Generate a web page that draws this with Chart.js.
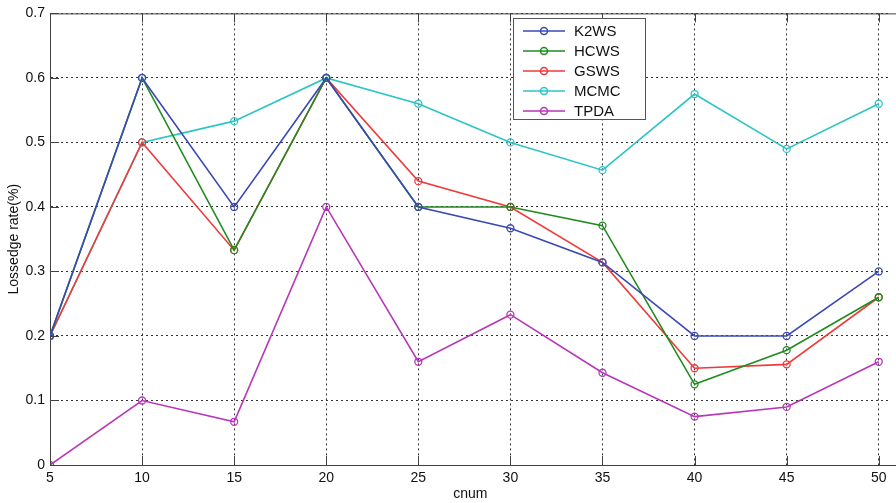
<!DOCTYPE html>
<html>
<head>
<meta charset="utf-8">
<script src="https://cdn.jsdelivr.net/npm/chart.js@4.4.1/dist/chart.umd.min.js"></script>
<style>
  html, body { margin: 0; padding: 0; background: #fff; overflow: hidden; }
  #wrap { width: 896px; height: 503px; }
</style>
</head>
<body>
<div id="wrap"><canvas id="lossChart"></canvas></div>
<script>
// cnum values on the x axis
const cnum = [5, 10, 15, 20, 25, 30, 35, 40, 45, 50];
const yTicks = [0, 0.1, 0.2, 0.3, 0.4, 0.5, 0.6, 0.7];

// lossedge rate per method
const k2ws = [0.2, 0.6, 0.4, 0.6, 0.4, 0.367, 0.314, 0.2, 0.2, 0.3];
const hcws = [0.2, 0.6, 0.333, 0.6, 0.4, 0.4, 0.371, 0.125, 0.178, 0.26];
const gsws = [0.2, 0.5, 0.333, 0.6, 0.44, 0.4, 0.314, 0.15, 0.156, 0.26];
const mcmc = [0.2, 0.5, 0.533, 0.6, 0.56, 0.5, 0.457, 0.575, 0.49, 0.56];
const tpda = [0, 0.1, 0.067, 0.4, 0.16, 0.233, 0.143, 0.075, 0.09, 0.16];

const names = ['K2WS', 'HCWS', 'GSWS', 'MCMC', 'TPDA'];
const colors = ['#3a49b5', '#1f8c1f', '#f03a3a', '#2cc4c4', '#b836b8'];
const series = [k2ws, hcws, gsws, mcmc, tpda];

const toPoints = vals => vals.map((v, i) => ({ x: cnum[i], y: v }));

// top border, inward ticks and the legend box (matlab style)
const matlabBox = {
    id: 'matlabBox',
    afterDatasetsDraw(chart) {
        const ctx = chart.ctx;
        const a = chart.chartArea;
        const xs = chart.scales.x, ys = chart.scales.y;
        ctx.save();
        ctx.strokeStyle = '#404040';
        ctx.lineWidth = 1;
        ctx.beginPath();
        ctx.moveTo(a.left, a.top + 0.5);
        ctx.lineTo(chart.width, a.top + 0.5);
        ctx.moveTo(a.left, a.bottom + 0.5);
        ctx.lineTo(chart.width, a.bottom + 0.5);
        xs.ticks.forEach(t => {
            const px = Math.round(xs.getPixelForValue(t.value)) + 0.5;
            ctx.moveTo(px, a.bottom);
            ctx.lineTo(px, a.bottom - 9);
            ctx.moveTo(px, a.top);
            ctx.lineTo(px, a.top + 9);
        });
        ys.ticks.forEach(t => {
            const py = Math.round(ys.getPixelForValue(t.value)) + 0.5;
            ctx.moveTo(a.left, py);
            ctx.lineTo(a.left + 9, py);
        });
        ctx.stroke();

        // legend
        const bx = 513.5, by = 18.5, bw = 132, bh = 101;
        ctx.fillStyle = '#fff';
        ctx.fillRect(bx, by, bw, bh);
        ctx.strokeStyle = '#555';
        ctx.strokeRect(bx, by, bw, bh);
        ctx.font = '15px "Liberation Sans", Arial, sans-serif';
        ctx.textBaseline = 'middle';
        chart.data.datasets.forEach((ds, i) => {
            const y = 31 + i * 20;
            ctx.strokeStyle = ds.borderColor;
            ctx.lineWidth = 1.5;
            ctx.beginPath();
            ctx.moveTo(523, y);
            ctx.lineTo(565, y);
            ctx.stroke();
            ctx.beginPath();
            ctx.arc(544, y, 3.5, 0, Math.PI * 2);
            ctx.stroke();
            ctx.fillStyle = '#111';
            ctx.fillText(ds.label, 574, y + 1);
        });
        ctx.restore();
    }
};

const ctx = document.getElementById('lossChart').getContext('2d');

const lossChart = new Chart(ctx, {
    type: 'line',
    data: {
        datasets: series.map((vals, i) => ({
            label: names[i],
            data: toPoints(vals),
            borderColor: colors[i],
            backgroundColor: 'rgba(0,0,0,0)',
            borderWidth: 1.6,
            pointRadius: 3.5,
            pointBorderWidth: 1.3,
            pointBackgroundColor: 'rgba(0,0,0,0)',
            tension: 0
        }))
    },
    options: {
        responsive: true,
        maintainAspectRatio: false,
        animation: false,
        layout: { padding: { top: 12, right: 0, left: 0, bottom: 0 } },
        plugins: {
            legend: { display: false },
            tooltip: { enabled: false }
        },
        scales: {
            x: {
                type: 'linear',
                min: 5,
                max: 50.65,
                afterBuildTicks: s => { s.ticks = cnum.map(v => ({ value: v })); },
                afterFit: s => { s.height = 38; },
                ticks: {
                    color: '#111',
                    padding: 5,
                    maxRotation: 0,
                    font: { family: '"Liberation Sans", Arial, sans-serif', size: 14 }
                },
                grid: { color: '#333', lineWidth: 1, drawTicks: false },
                border: { display: true, color: '#404040', width: 1, dash: [2, 3] },
                title: {
                    display: true,
                    text: 'cnum',
                    color: '#111',
                    padding: { top: 2, bottom: 0 },
                    font: { family: '"Liberation Sans", Arial, sans-serif', size: 14 }
                }
            },
            y: {
                min: 0,
                max: 0.7,
                afterBuildTicks: s => { s.ticks = yTicks.map(v => ({ value: v })); },
                afterFit: s => { s.width = 50; },
                ticks: {
                    color: '#111',
                    padding: 5,
                    callback: v => String(Math.round(v * 10) / 10),
                    font: { family: '"Liberation Sans", Arial, sans-serif', size: 14 }
                },
                grid: { color: '#333', lineWidth: 1, drawTicks: false },
                border: { display: true, color: '#404040', width: 1, dash: [2, 3] },
                title: {
                    display: true,
                    text: 'Lossedge rate(%)',
                    color: '#111',
                    padding: { top: 6, bottom: 0 },
                    font: { family: '"Liberation Sans", Arial, sans-serif', size: 14 }
                }
            }
        }
    },
    plugins: [matlabBox]
});
</script>
</body>
</html>
